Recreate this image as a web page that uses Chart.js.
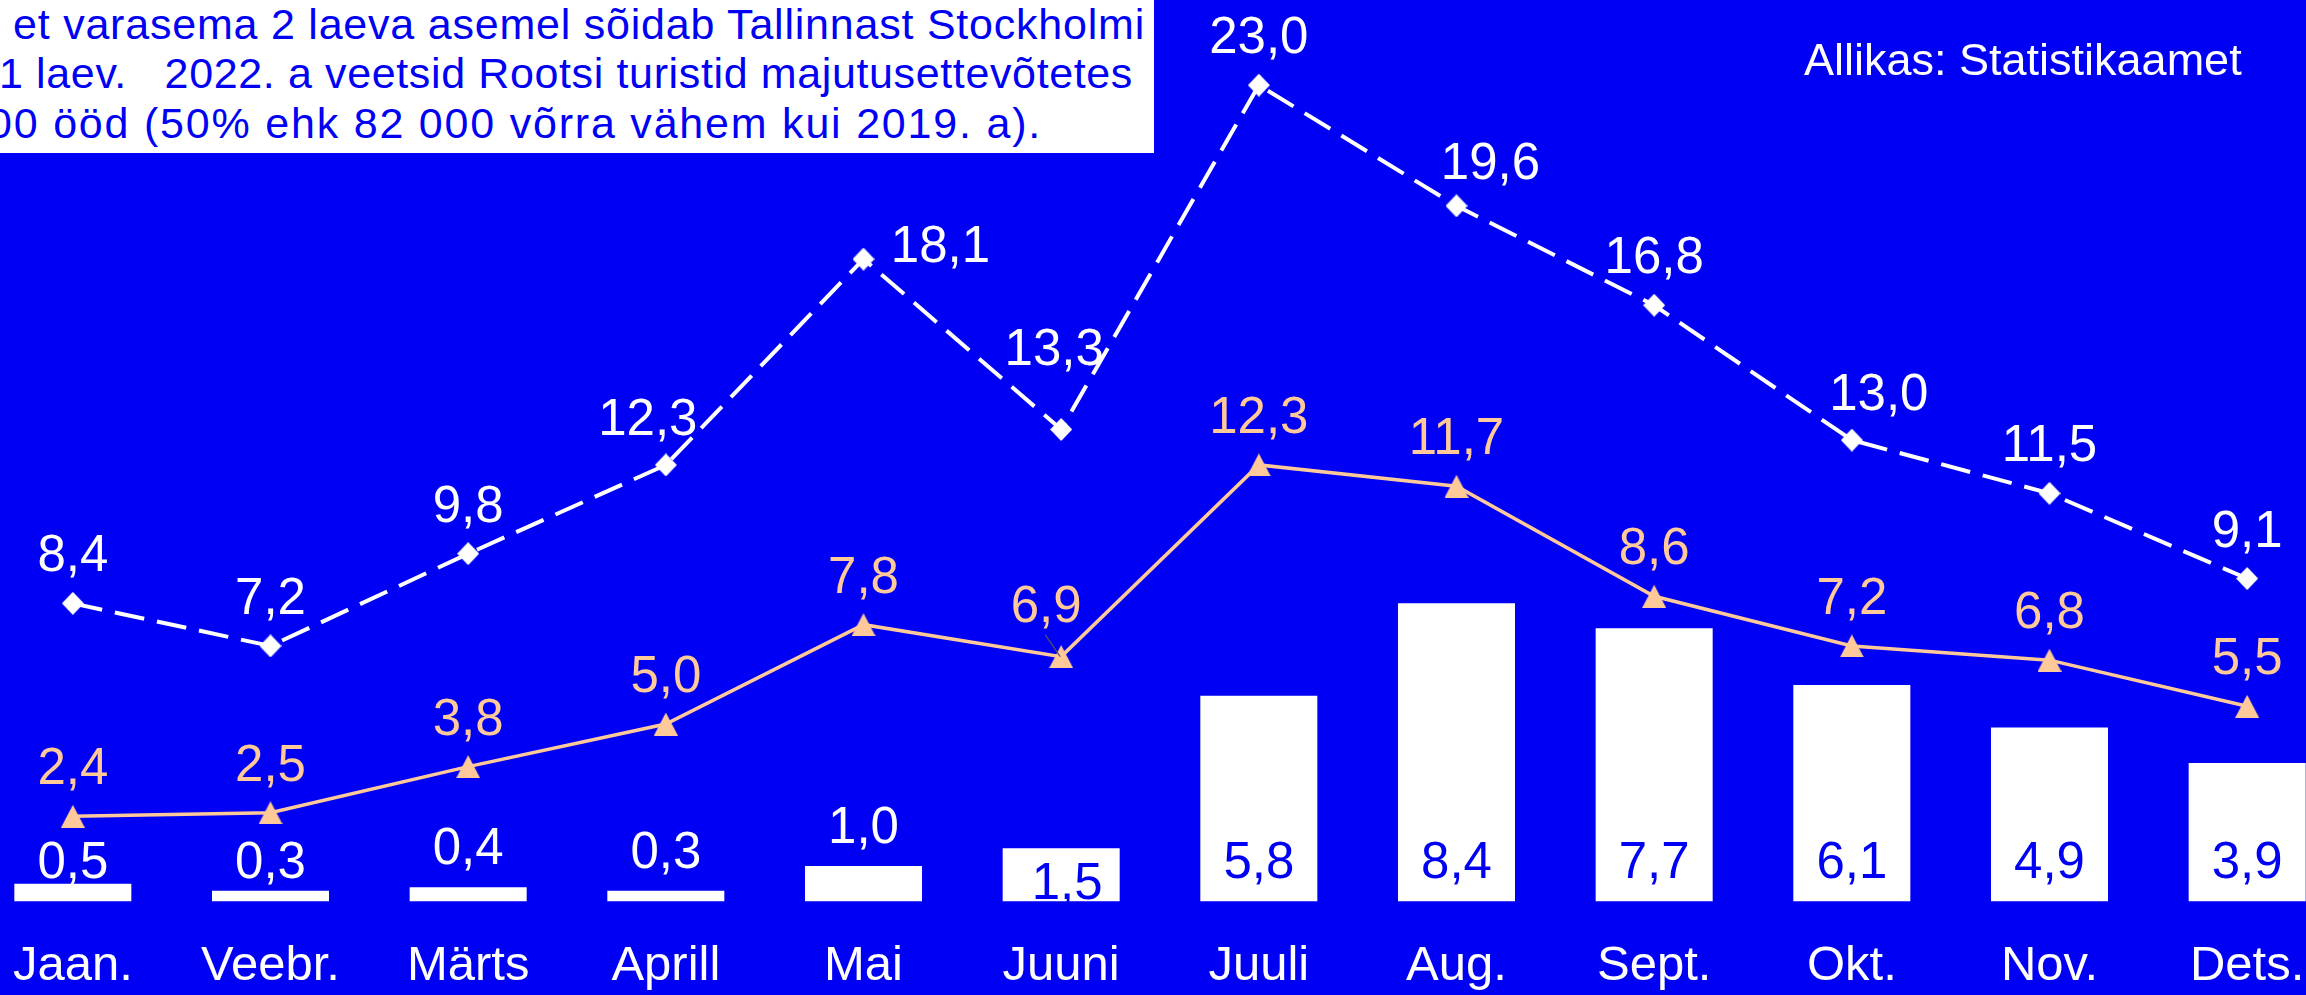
<!DOCTYPE html>
<html lang="et">
<head>
<meta charset="utf-8">
<title>Rootsi turistid</title>
<script src="https://cdn.jsdelivr.net/npm/chart.js@4.4.1/dist/chart.umd.min.js"></script>
<style>
    html, body {
        margin: 0;
        padding: 0;
        width: 2306px;
        height: 995px;
        overflow: hidden;
        background: #0000f5;
        font-family: 'Liberation Sans', Arial, sans-serif;
    }
    #chart {
        position: absolute;
        left: -26px;
        top: 0;
    }
    .note {
        position: absolute;
        left: 0;
        top: 0;
        width: 1154px;
        height: 153px;
        background: #fff;
        overflow: hidden;
        color: #0000f5;
        font-size: 43px;
    }
    .note span {
        position: absolute;
        white-space: pre;
        line-height: 1;
    }
    .source {
        position: absolute;
        left: 1804px;
        top: 37px;
        color: #fff;
        font-size: 45px;
        white-space: pre;
        line-height: 1;
    }
</style>
</head>
<body>
<canvas id="chart" width="2372" height="995"></canvas>
<div class="note">
    <span data-w="1132" style="left: 13px; top: 3px;">et varasema 2 laeva asemel sõidab Tallinnast Stockholmi</span>
    <span data-w="1134" style="left: -1px; top: 52px;">1 laev.   2022. a veetsid Rootsi turistid majutusettevõtetes</span>
    <span data-w="1054" style="left: -12px; top: 102px;">00 ööd (50% ehk 82 000 võrra vähem kui 2019. a).</span>
</div>
<div class="source">Allikas: Statistikaamet</div>

<script>
// Andmed
const months = ['Jaan.', 'Veebr.', 'Märts', 'Aprill', 'Mai', 'Juuni', 'Juuli', 'Aug.', 'Sept.', 'Okt.', 'Nov.', 'Dets.'];
const dashedValues = [8.4, 7.2, 9.8, 12.3, 18.1, 13.3, 23.0, 19.6, 16.8, 13.0, 11.5, 9.1];
const solidValues = [2.4, 2.5, 3.8, 5.0, 7.8, 6.9, 12.3, 11.7, 8.6, 7.2, 6.8, 5.5];
const barValues = [0.5, 0.3, 0.4, 0.3, 1.0, 1.5, 5.8, 8.4, 7.7, 6.1, 4.9, 3.9];

const BLUE = '#0000f5';
const PEACH = '#ffc999';
const FONT = "'Liberation Sans', Arial, sans-serif";

// label nudges [dx, height of baseline above point]
const dashedShift = { 3: [-18, 30], 4: [77, -3], 5: [-7, 64], 7: [34, 27], 9: [27, 30] };
const solidShift = { 5: [-15, 35] };
const barShift = { 0: [0, 6], 1: [0, 13] };

// stretch the note lines to the width they have in the original
document.querySelectorAll('.note span').forEach(function(s) {
    const natural = s.getBoundingClientRect().width;
    const n = s.textContent.length;
    s.style.letterSpacing = ((+s.dataset.w - natural) / n) + 'px';
});

function fmt(v) {
    return v.toFixed(1).replace('.', ',');
}

// markers drawn on small canvases
function triangleMarker(color) {
    const c = document.createElement('canvas');
    c.width = 24;
    c.height = 23;
    const g = c.getContext('2d');
    g.fillStyle = color;
    g.beginPath();
    g.moveTo(12, 0);
    g.lineTo(24, 23);
    g.lineTo(0, 23);
    g.closePath();
    g.fill();
    return c;
}

function diamondMarker(color) {
    const c = document.createElement('canvas');
    c.width = 22;
    c.height = 23;
    const g = c.getContext('2d');
    g.fillStyle = color;
    g.beginPath();
    g.moveTo(11, 0);
    g.lineTo(22, 11.5);
    g.lineTo(11, 23);
    g.lineTo(0, 11.5);
    g.closePath();
    g.fill();
    return c;
}

const valueLabels = {
    id: 'valueLabels',
    afterDatasetsDraw(chart) {
        const ctx = chart.ctx;
        ctx.save();
        ctx.font = '51px ' + FONT;
        ctx.textAlign = 'center';
        ctx.textBaseline = 'alphabetic';
        chart.data.datasets.forEach((ds, di) => {
            const meta = chart.getDatasetMeta(di);
            meta.data.forEach((el, i) => {
                const v = ds.data[i];
                let x = el.x;
                let y;
                if (ds.type === 'bar') {
                    if (v >= 1.5) {
                        ctx.fillStyle = BLUE;
                        y = i === 5 ? el.base - 2.5 : el.base - 23.5;
                        if (i === 5) x += 6;
                    } else {
                        ctx.fillStyle = '#fff';
                        const s = barShift[i] || [0, 23];
                        x += s[0];
                        y = el.y - s[1];
                    }
                } else {
                    const s = ds.shift[i] || [0, 32];
                    ctx.fillStyle = ds.labelColor;
                    x += s[0];
                    y = el.y - s[1];
                    if (ds.leader === i) {
                        ctx.strokeStyle = '#555';
                        ctx.lineWidth = 1.2;
                        ctx.beginPath();
                        ctx.moveTo(x - 1, y + 13);
                        ctx.lineTo(el.x - 1, el.y);
                        ctx.stroke();
                    }
                }
                ctx.fillText(fmt(v), x, y);
            });
        });
        ctx.restore();
    }
};

new Chart(document.getElementById('chart'), {
    type: 'bar',
    data: {
        labels: months,
        datasets: [
            {
                type: 'line',
                data: dashedValues,
                borderColor: '#fff',
                borderWidth: 4,
                borderDash: [30, 13],
                pointStyle: diamondMarker('#fff'),
                pointRadius: 11,
                tension: 0,
                order: 1,
                labelColor: '#fff',
                shift: dashedShift
            },
            {
                type: 'line',
                data: solidValues,
                borderColor: PEACH,
                borderWidth: 3.5,
                pointStyle: triangleMarker(PEACH),
                pointRadius: 12,
                tension: 0,
                order: 2,
                labelColor: PEACH,
                shift: solidShift,
                leader: 5
            },
            {
                type: 'bar',
                data: barValues,
                backgroundColor: '#fff',
                borderWidth: 0,
                categoryPercentage: 1,
                barPercentage: 0.592,
                order: 3
            }
        ]
    },
    options: {
        responsive: false,
        animation: false,
        layout: {
            autoPadding: false,
            padding: 0
        },
        plugins: {
            legend: { display: false },
            tooltip: { enabled: false }
        },
        scales: {
            x: {
                offset: true,
                grid: { display: false },
                border: { display: false },
                ticks: {
                    color: '#fff',
                    padding: 28,
                    maxRotation: 0,
                    autoSkip: false,
                    font: { family: FONT, size: 49 }
                },
                afterFit: function(scale) {
                    scale.height = 93.5;
                }
            },
            y: {
                display: false,
                min: 0,
                max: 25.4
            }
        }
    },
    plugins: [valueLabels]
});
</script>
</body>
</html>
